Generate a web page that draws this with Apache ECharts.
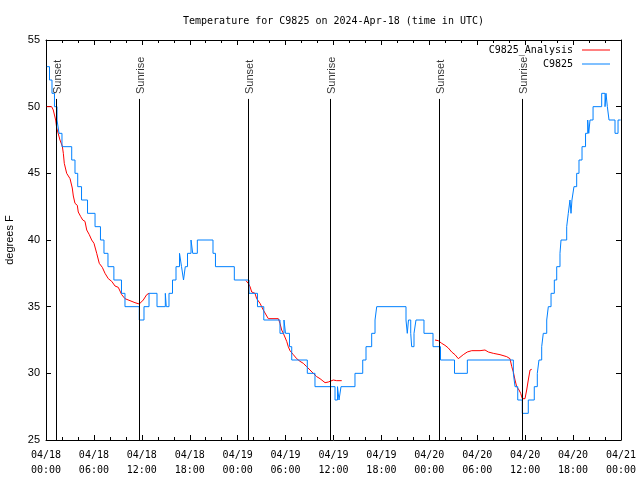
<!DOCTYPE html>
<html><head><meta charset="utf-8">
<script src="https://cdn.jsdelivr.net/npm/echarts@6/dist/echarts.min.js"></script>
<style>html,body{margin:0;padding:0;background:#fff}#c{width:640px;height:480px}</style>
</head><body><div id="c"></div>
<script>
// hours since 2024-04-18 00:00 UTC
const blueT = [0.1,0.44,0.75,1.06,1.38,1.63,2.00,3.22,3.63,3.97,4.45,5.20,6.14,6.82,7.26,7.76,8.5,9.45,9.89,11.68,12.27,12.90,13.90,14.94,15.06,15.40,15.84,16.28,16.72,16.97,17.22,17.44,17.72,18.16,18.37,18.95,20.91,21.22,23.58,25.42,26.48,27.27,29.30,29.80,29.99,30.49,30.77,32.72,33.68,36.19,36.50,36.69,36.94,38.69,39.66,40.07,40.78,41.20,41.41,45.08,45.24,45.39,45.67,45.79,46.08,46.33,47.33,48.46,49.40,51.15,52.76,58.52,58.73,59.07,59.64,60.39,61.14,61.52,61.73,62.07,62.27,62.70,62.90,63.24,63.65,63.95,64.36,64.49,65.20,65.40,65.61,65.74,65.86,66.11,66.45,66.74,67.12,67.56,67.83,67.96,68.12,68.50,69.58,70.00,70.12,70.29,70.50,71.25,71.63,71.95];
const blueV = [53,52,51,50,49,48,47,46,45,44,43,42,41,40,39,38,37,36,35,34,35,36,35,36,35,36,37,38,39,38,37,38,39,40,39,40,39,38,37,36,35,34,33,34,33,32,31,30,29,28,29,28,29,30,31,32,33,34,35,34,33,34,33,32,33,34,33,32,31,30,31,30,29,28,27,28,29,30,31,32,33,34,35,36,37,38,39,40,41,42,43,42,43,44,45,46,47,48,49,48,49,50,51,50,51,50,49,48,49,49];
const redT = [0.09,0.71,0.91,1.21,1.34,1.75,2.04,2.17,2.29,2.59,3.01,3.29,3.42,3.63,3.92,4.04,4.35,4.60,4.88,5.10,5.42,5.72,6.01,6.35,6.67,7.05,7.39,7.80,8.23,8.64,9.05,9.48,9.89,10.52,11.14,11.68,12.18,12.61,12.90,13.0,
  25.04,25.33,25.55,25.76,26.17,26.38,26.80,27.21,27.64,27.84,29.09,29.30,29.51,29.72,30.14,30.34,30.55,30.97,31.39,31.81,32.22,32.64,33.06,33.47,33.90,34.31,34.94,35.35,35.98,36.40,37.03,37.1,
  48.71,49.12,49.55,49.96,50.38,50.80,51.21,51.63,51.84,52.25,52.75,53.31,54.35,54.97,55.39,56.01,56.85,57.69,58.10,58.32,58.52,58.73,58.94,59.23,59.44,59.64,59.98,60.19,60.39,60.61,60.82];
const redV = [50.0,50.0,49.75,49.0,48.4,47.5,47.05,46.5,45.75,45.0,44.6,43.9,43.3,42.75,42.6,42.1,41.75,41.5,41.4,40.75,40.4,40.0,39.75,39.0,38.25,37.95,37.5,37.1,36.9,36.55,36.45,35.9,35.6,35.45,35.3,35.2,35.5,35.9,36.0,null,
  36.95,36.75,36.5,36.1,36.0,35.6,35.25,34.75,34.3,34.1,34.1,33.75,33.25,33.0,32.4,32.0,31.7,31.4,31.1,30.9,30.75,30.5,30.25,30.0,29.75,29.6,29.3,29.35,29.5,29.45,29.45,null,
  32.5,32.45,32.25,32.1,31.9,31.6,31.4,31.1,31.1,31.4,31.6,31.7,31.7,31.75,31.6,31.5,31.4,31.25,31.1,30.5,30.1,29.5,29.0,28.75,28.5,28.1,28.1,28.75,29.5,30.25,30.3];
const sunT = [1.29,11.68,25.33,35.56,49.25,59.60];
const sunLabels = ['Sunset','Sunrise','Sunset','Sunrise','Sunset','Sunrise'];
const sunLineTop = 50.58;
const sunLabelY = 51.06;
const xTickLabels = ['04/18\n00:00','04/18\n06:00','04/18\n12:00','04/18\n18:00','04/19\n00:00','04/19\n06:00','04/19\n12:00','04/19\n18:00','04/20\n00:00','04/20\n06:00','04/20\n12:00','04/20\n18:00','04/21\n00:00'];
const yTicks = [25,30,35,40,45,50,55];

const MONO = '"DejaVu Sans Mono", "Liberation Mono", monospace';
const SANS = '"Liberation Sans", Arial, sans-serif';

const blueData = blueT.map((t,i)=>[t, blueV[i]]);
const redData = redT.map((t,i)=>[t, redV[i] === null ? '-' : redV[i]]);
const sunData = sunT.map(t=>[t, sunLabelY]);
const sunLines = sunT.map(t=>[{coord:[t, sunLineTop]},{coord:[t, yTicks[0]]}]);

const axisLineStyle = {color:'#000', width:1};
function xAxisCfg(pos, showLabel){
  return {
    type:'value', position:pos, min:0, max:72, interval:6,
    axisLine:{show:true, onZero:false, lineStyle:axisLineStyle},
    axisTick:{show:true, inside:true, length:5, lineStyle:axisLineStyle},
    minorTick:{show:true, splitNumber:3, length:3, lineStyle:axisLineStyle},
    splitLine:{show:false}, minorSplitLine:{show:false},
    axisLabel:{show:showLabel, margin:8, color:'#000', fontFamily:MONO, fontSize:10, lineHeight:15,
      formatter:v=>xTickLabels[Math.round(v/6)]}
  };
}
function yAxisCfg(pos, showLabel){
  const c = {
    type:'value', position:pos, min:25, max:55, interval:5,
    axisLine:{show:true, onZero:false, lineStyle:axisLineStyle},
    axisTick:{show:true, inside:true, length:5, lineStyle:axisLineStyle},
    splitLine:{show:false},
    axisLabel:{show:showLabel, margin:6, color:'#000', fontFamily:SANS, fontSize:11}
  };
  if (showLabel) {
    c.name = 'degrees F'; c.nameLocation='middle'; c.nameRotate=90; c.nameGap=31;
    c.nameTextStyle = {color:'#000', fontFamily:SANS, fontSize:11};
  }
  return c;
}
const legendBase = {
  orient:'vertical', align:'right', right:30, itemWidth:28, itemHeight:1, padding:0, itemGap:0, icon:'rect',
  textStyle:{color:'#000', fontFamily:MONO, fontSize:10, padding:[0,4,0,0]}
};
const chart = echarts.init(document.getElementById('c'), null, {renderer:'canvas'});
chart.setOption({
  animation:false,
  backgroundColor:'#fff',
  title:{text:'Temperature for C9825 on 2024-Apr-18 (time in UTC)', left:333.5, textAlign:'center', top:16, padding:0,
    textStyle:{color:'#000', fontFamily:MONO, fontSize:10, fontWeight:'normal'}},
  legend:[
    Object.assign({}, legendBase, {data:['C9825_Analysis'], top:45}),
    Object.assign({}, legendBase, {data:['C9825'], top:59})
  ],
  grid:{left:46, right:19, top:40, bottom:40, containLabel:false, outerBoundsMode:'none'},
  xAxis:[xAxisCfg('bottom', true), xAxisCfg('top', false)],
  yAxis:[yAxisCfg('left', true), yAxisCfg('right', false)],
  series:[
    {name:'C9825_Analysis', type:'line', data:redData, symbol:'none', connectNulls:false,
      lineStyle:{color:'#ff0000', width:1}, itemStyle:{color:'#ff0000'}, z:3},
    {name:'C9825', type:'line', step:'end', data:blueData, symbol:'none',
      lineStyle:{color:'#0080ff', width:1}, itemStyle:{color:'#0080ff'}, z:4},
    {name:'sun', type:'scatter', data:sunData, symbolSize:1, itemStyle:{color:'rgba(0,0,0,0)'}, z:5, silent:true,
      label:{show:true, formatter:p=>sunLabels[p.dataIndex], rotate:90, position:[2,2], align:'left', verticalAlign:'middle',
        color:'#000', fontFamily:SANS, fontSize:11},
      markLine:{silent:true, symbol:['none','none'], label:{show:false}, animation:false,
        lineStyle:{color:'#000', width:1, type:'solid'}, emphasis:{disabled:true}, data:sunLines}}
  ]
});
</script></body></html>
